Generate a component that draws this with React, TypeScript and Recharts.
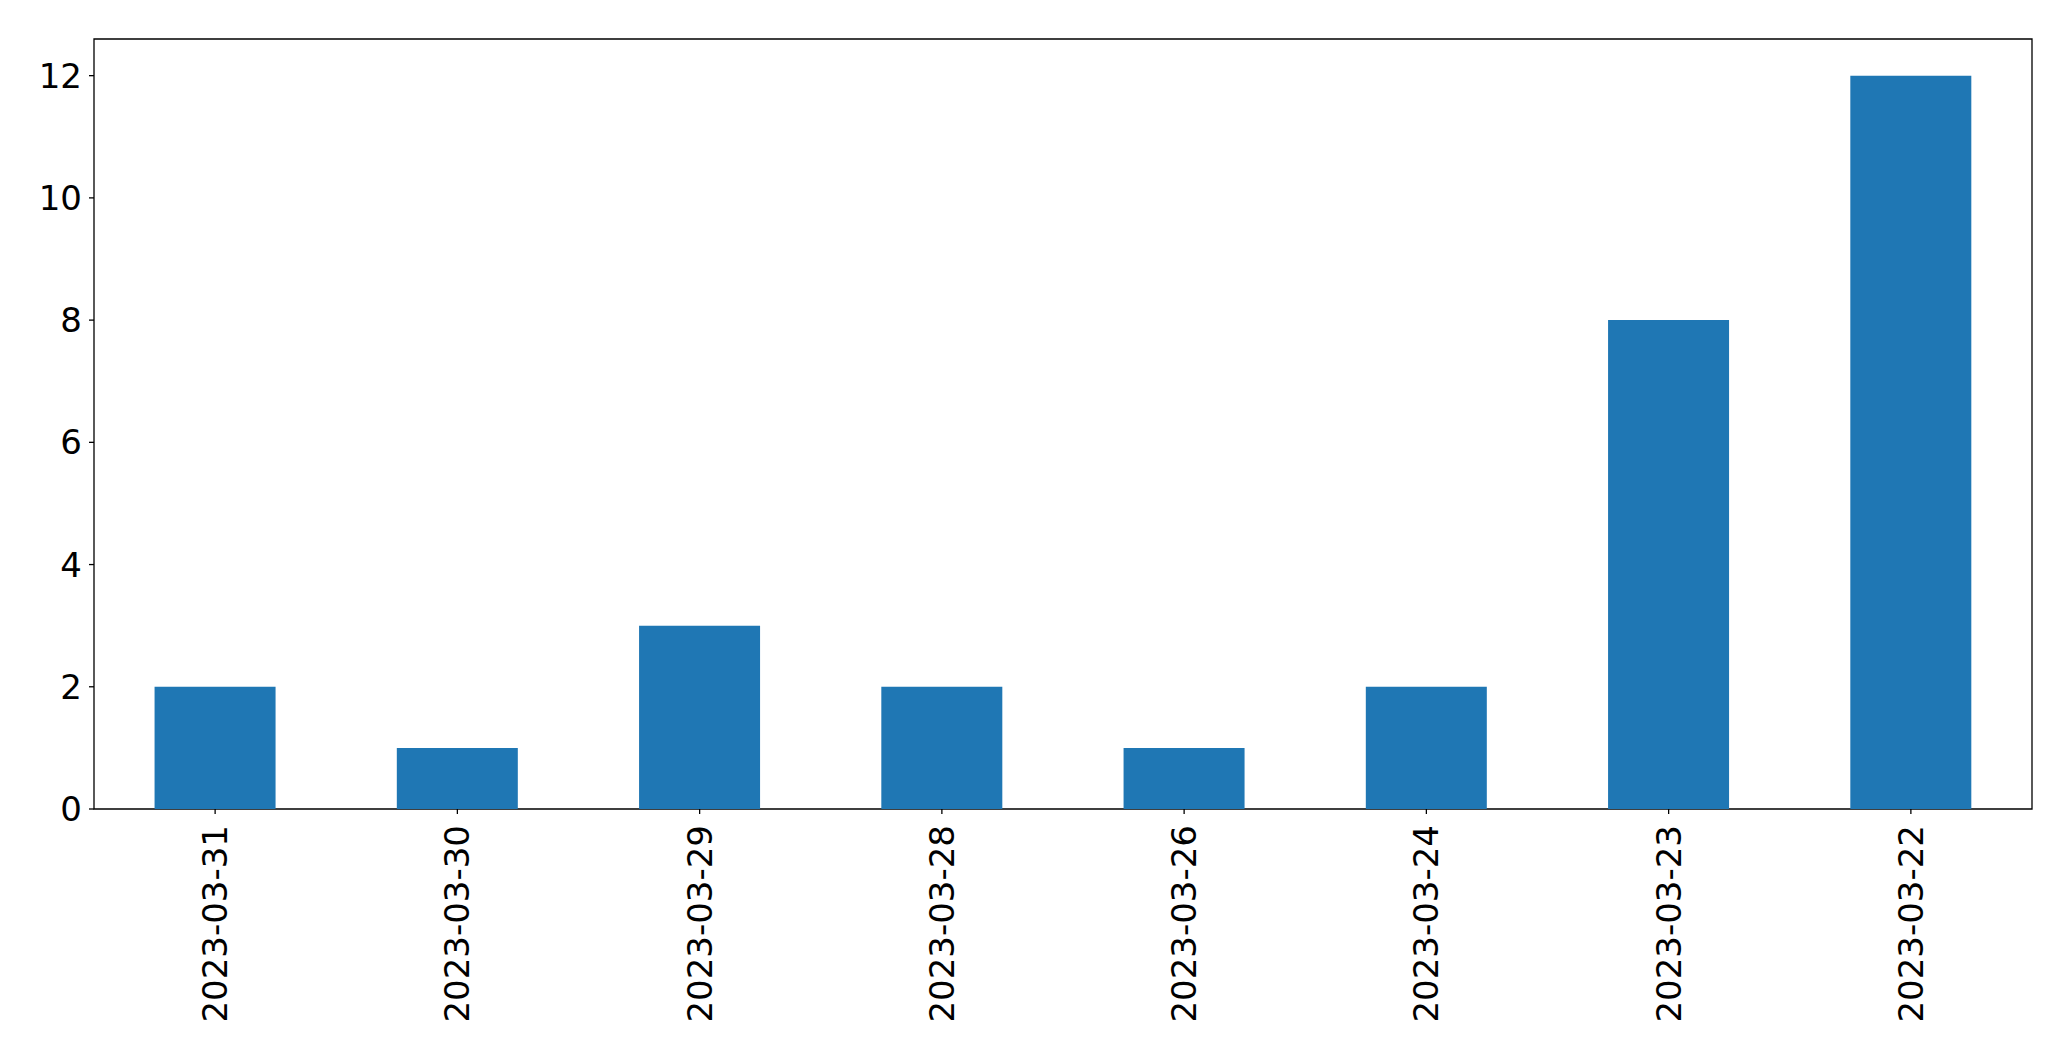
import { BarChart, Bar, XAxis, YAxis, ReferenceArea } from 'recharts'

// Dates in the order they appear on the x axis
const dates = [
  '2023-03-31',
  '2023-03-30',
  '2023-03-29',
  '2023-03-28',
  '2023-03-26',
  '2023-03-24',
  '2023-03-23',
  '2023-03-22',
]
const counts = [2, 1, 3, 2, 1, 2, 8, 12]
const yTicks = [0, 2, 4, 6, 8, 10, 12]
const yMax = 12.6

const data = dates.map((date, i) => ({ date, count: counts[i] }))

const FONT = '"DejaVu Sans", sans-serif'
const FONT_SIZE = 34

const DateTick = ({ x, y, payload }: any) => (
  <text
    x={x}
    y={y}
    transform={`rotate(-90, ${x}, ${y})`}
    textAnchor="end"
    dominantBaseline="central"
    fontFamily={FONT}
    fontSize={FONT_SIZE}
    fill="#000"
  >
    {payload.value}
  </text>
)

export default function App() {
  return (
    <div style={{ position: 'absolute', left: 0, top: 0, background: '#fff' }}>
      <BarChart
        width={2071}
        height={1061}
        data={data}
        barCategoryGap="25%"
        margin={{ top: 39, right: 39, bottom: 52, left: 0 }}
      >
        <XAxis
          dataKey="date"
          height={200}
          tick={<DateTick />}
          tickSize={5}
          tickMargin={11}
          interval={0}
          axisLine={false}
          tickLine={{ stroke: '#000', strokeWidth: 1.3 }}
        />
        <YAxis
          width={94}
          domain={[0, yMax]}
          ticks={yTicks}
          tickSize={5}
          tickMargin={7}
          axisLine={false}
          tickLine={{ stroke: '#000', strokeWidth: 1.3 }}
          tick={{ fontFamily: FONT, fontSize: FONT_SIZE, fill: '#000' }}
        />
        <Bar dataKey="count" fill="#1f77b4" isAnimationActive={false} />
        {/* frame around the plot area */}
        <ReferenceArea
          y1={0}
          y2={yMax}
          fill="none"
          fillOpacity={0}
          stroke="#000"
          strokeWidth={1.3}
          strokeOpacity={1}
          ifOverflow="visible"
        />
      </BarChart>
    </div>
  )
}
